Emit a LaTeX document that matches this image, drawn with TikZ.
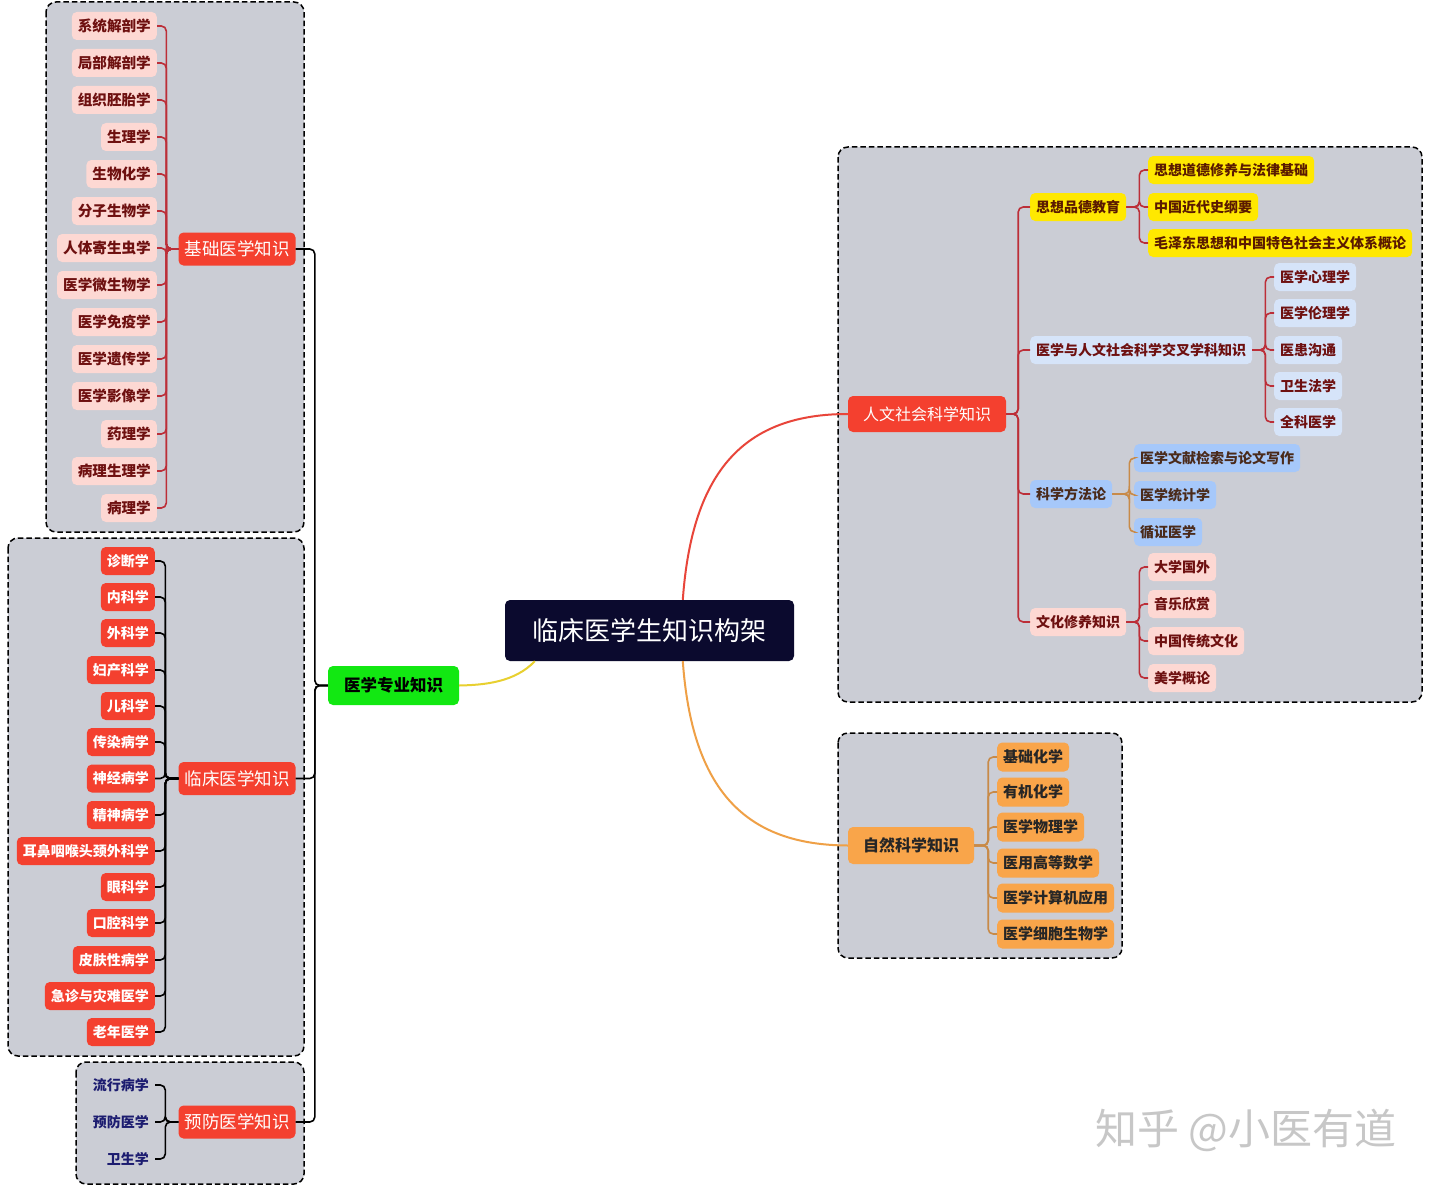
\documentclass[tikz,border=0pt]{standalone}
\usepackage{fontspec}
\setmainfont{Noto Sans CJK SC}
\usetikzlibrary{calc}
\definecolor{grpbg}{HTML}{CBCDD5}
\definecolor{nodered}{HTML}{F4402F}
\definecolor{pinkbg}{HTML}{FDD8D3}
\definecolor{darkred}{HTML}{6E1010}
\definecolor{linered}{HTML}{BC2E38}
\definecolor{yelbg}{HTML}{FFE800}
\definecolor{yeltext}{HTML}{5A1A00}
\definecolor{ltblue}{HTML}{D6E4F9}
\definecolor{midblue}{HTML}{A6C8FA}
\definecolor{bluetext}{HTML}{4A2A1A}
\definecolor{orangebg}{HTML}{F9A54A}
\definecolor{orangeline}{HTML}{C88A48}
\definecolor{navy}{HTML}{0B0A2E}
\definecolor{greenbg}{HTML}{12E812}
\definecolor{navytext}{HTML}{1C1C70}
\definecolor{curvered}{HTML}{E8453A}
\definecolor{curveorange}{HTML}{EFA046}
\definecolor{curveyellow}{HTML}{E8D030}
\begin{document}
\begin{tikzpicture}[x=1pt,y=-1pt,
  grp/.style={fill=grpbg,draw=black,line width=1.5pt,dash pattern=on 5.5pt off 3pt,rounded corners=10pt},
  base/.style={rounded corners=5pt,inner xsep=6pt,inner ysep=0pt,minimum height=28pt,font=\fontsize{14}{16}\selectfont\bfseries},
  pinkbox/.style={base,fill=pinkbg,text=darkred,font=\fontsize{14.6}{16}\selectfont\bfseries},
  redbox/.style={base,fill=nodered,text=white},
  plaintext/.style={base,text=navytext},
  bigred/.style={rounded corners=5pt,inner xsep=6pt,inner ysep=0pt,minimum height=33pt,fill=nodered,text=white,font=\fontsize{17.5}{20}\selectfont},
  yelbox/.style={base,fill=yelbg,text=yeltext},
  ltbluebox/.style={base,fill=ltblue,text=darkred},
  bluebox/.style={base,fill=midblue,text=bluetext},
  rpinkbox/.style={base,fill=pinkbg,text=darkred},
  orbox/.style={base,fill=orangebg,text=black!85,font=\fontsize{15}{17}\selectfont\bfseries,minimum height=29pt},
  conn/.style={line width=1.6pt,rounded corners=5pt},
]
\useasboundingbox[fill=white] (0,0) rectangle (1440,1188);

% group frames
\draw[grp] (46,2) rectangle (304,532);
\draw[grp] (8,538) rectangle (304,1056);
\draw[grp] (76,1062) rectangle (304,1184);
\draw[grp] (838,147) rectangle (1422,702);
\draw[grp] (838,733) rectangle (1122,958);

% root and first level
\node[fill=navy,text=white,rounded corners=5pt,minimum width=289pt,minimum height=61pt,inner sep=0pt,font=\fontsize{26}{30}\selectfont] (root) at (649.5,630.5) {临床医学生知识构架};
\node[fill=greenbg,text=black,rounded corners=5pt,minimum width=131pt,minimum height=39pt,inner sep=0pt,font=\fontsize{16.5}{19}\selectfont\bfseries] (zy) at (393.5,685.5) {医学专业知识};
\node[fill=nodered,text=white,rounded corners=5pt,minimum width=158pt,minimum height=36pt,inner sep=0pt,font=\fontsize{16}{19}\selectfont] (rw) at (927,414) {人文社会科学知识};
\node[fill=orangebg,text=black!85,rounded corners=5pt,minimum width=126pt,minimum height=37pt,inner sep=0pt,font=\fontsize{16}{19}\selectfont\bfseries] (zr) at (911,845.5) {自然科学知识};

\draw[curveyellow,line width=2pt] ($(root.south west)+(30,0)$) .. controls (515,682) and (485,685) .. (zy.east);
\draw[curvered,line width=2pt] ($(root.north west)+(178,0)$) .. controls (692,470) and (745,414) .. (rw.west);
\draw[curveorange,line width=2pt] ($(root.south west)+(178,0)$) .. controls (692,790) and (745,845) .. (zr.west);

% second level on the left
\node[bigred,minimum width=116pt] (jc) at (237,249) {基础医学知识};
\node[bigred,minimum width=116pt] (lc) at (237,778.5) {临床医学知识};
\node[bigred,minimum width=116pt] (yf) at (237,1122) {预防医学知识};
\foreach \p in {jc,lc,yf}{\draw[conn,black] (zy.west) -- ++(-13,0) |- (\p.east);}

% basic medical knowledge
\foreach \t/\y [count=\i] in {系统解剖学/26,局部解剖学/63,组织胚胎学/100,生理学/137,生物化学/174,分子生物学/211,人体寄生虫学/248,医学微生物学/285,医学免疫学/322,医学遗传学/359,医学影像学/396,药理学/434,病理生理学/471,病理学/508}{
  \node[pinkbox,anchor=east] (b\i) at (157,\y) {\t};
  \draw[conn,linered] (jc.west) -- ++(-12,0) |- (b\i.east);
}

% clinical medical knowledge
\foreach \t/\y [count=\i] in {诊断学/561,内科学/597,外科学/633,妇产科学/670,儿科学/706,传染病学/742,神经病学/778.5,精神病学/815,耳鼻咽喉头颈外科学/851,眼科学/887,口腔科学/923,皮肤性病学/960,急诊与灾难医学/996,老年医学/1032}{
  \node[redbox,anchor=east] (c\i) at (155,\y) {\t};
  \draw[conn,black] (lc.west) -- ++(-13,0) |- (c\i.east);
}

% preventive medical knowledge
\foreach \t/\y [count=\i] in {流行病学/1085,预防医学/1122,卫生学/1159}{
  \node[plaintext,anchor=east] (p\i) at (155,\y) {\t};
  \draw[conn,black] (yf.west) -- ++(-13,0) |- (p\i.east);
}

% humanities
\node[yelbox,anchor=west] (sx) at (1030,207) {思想品德教育};
\node[ltbluebox,anchor=west] (jx) at (1030,350) {医学与人文社会科学交叉学科知识};
\node[bluebox,anchor=west] (fl) at (1030,494) {科学方法论};
\node[rpinkbox,anchor=west] (wh) at (1030,622) {文化修养知识};
\foreach \p in {sx,jx,fl,wh}{\draw[conn,linered] (rw.east) -- ++(12,0) |- (\p.west);}

\foreach \t/\y [count=\i] in {思想道德修养与法律基础/170,中国近代史纲要/207,毛泽东思想和中国特色社会主义体系概论/243}{
  \node[yelbox,anchor=west] (s\i) at (1148,\y) {\t};
  \draw[conn,linered] (sx.east) -- ++(13,0) |- (s\i.west);
}
\foreach \t/\y [count=\i] in {医学心理学/277,医学伦理学/313,医患沟通/350,卫生法学/386,全科医学/422}{
  \node[ltbluebox,anchor=west] (j\i) at (1274,\y) {\t};
  \draw[conn,linered] (jx.east) -- ++(13,0) |- (j\i.west);
}
\foreach \t/\y [count=\i] in {医学文献检索与论文写作/458,医学统计学/495,循证医学/532}{
  \node[bluebox,anchor=west] (f\i) at (1134,\y) {\t};
  \draw[conn,orangeline] (fl.east) -- ++(17,0) |- (f\i.west);
}
\foreach \t/\y [count=\i] in {大学国外/567,音乐欣赏/604,中国传统文化/641,美学概论/678}{
  \node[rpinkbox,anchor=west] (w\i) at (1148,\y) {\t};
  \draw[conn,linered] (wh.east) -- ++(13,0) |- (w\i.west);
}

% natural sciences
\foreach \t/\y [count=\i] in {基础化学/757,有机化学/792,医学物理学/827,医用高等数学/863,医学计算机应用/898,医学细胞生物学/934}{
  \node[orbox,anchor=west] (n\i) at (997,\y) {\t};
  \draw[conn,orangeline] (zr.east) -- ++(14,0) |- (n\i.west);
}

% watermark
\node[text=black!22,font=\fontsize{42}{46}\selectfont,anchor=west] (wm) at (1092,1130) {知乎 @小医有道};
\end{tikzpicture}
\end{document}
